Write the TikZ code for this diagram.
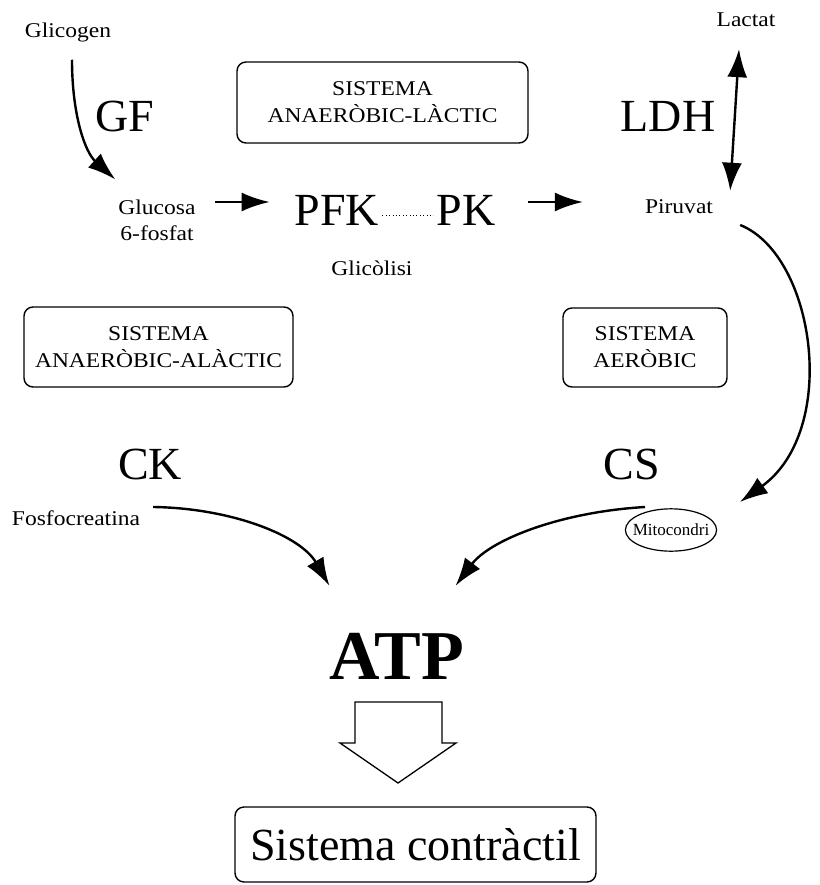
\documentclass[tikz,border=0pt]{standalone}
\usepackage{fontspec}
\setmainfont{Liberation Serif}
\newfontfamily\widefont{Liberation Serif}[FakeStretch=1.12]
\usetikzlibrary{arrows.meta,shapes.geometric}

\tikzset{
	small/.style={font=\widefont\fontsize{21}{26}\selectfont, inner sep=0pt, align=center},
	enzyme/.style={font=\fontsize{46}{50}\selectfont, inner sep=0pt},
	sysbox/.style={draw, line width=1.4pt, rounded corners=9pt, align=center, font=\widefont\fontsize{21}{27}\selectfont, inner sep=0pt},
	flow/.style={line width=2.4pt, -{Latex[length=28pt, width=19pt]}}
}

\begin{document}
\begin{tikzpicture}[x=1pt, y=-1pt]
	
	\useasboundingbox (0,0) rectangle (819,885);
	
	\node[small] (glicogen) at (68,32) {Glicogen};
	\node[enzyme] (gf) at (125,116) {GF};
	\node[small] (glucosa) at (157,220) {Glucosa\\6-fosfat};
	\node[enzyme] (pfk) at (337,210) {PFK};
	\node[enzyme] (pk) at (466,210) {PK};
	\node[small] (piruvat) at (679,207) {Piruvat};
	\node[small] (lactat) at (746,20) {Lactat};
	\node[enzyme] (ldh) at (668,116) {LDH};
	\node[small] (glicolisi) at (372,268) {Glicòlisi};
	
	\node[sysbox, minimum width=291pt, minimum height=81pt] (lactic) at (382.5,102.5) {SISTEMA\\ANAERÒBIC-LÀCTIC};
	\node[sysbox, minimum width=269pt, minimum height=80pt] (alactic) at (158.5,347) {SISTEMA\\ANAERÒBIC-ALÀCTIC};
	\node[sysbox, minimum width=164pt, minimum height=79pt] (aerobic) at (645,347.5) {SISTEMA\\AERÒBIC};
	
	\node[enzyme] (ck) at (150,464) {CK};
	\node[enzyme] (cs) at (632,464) {CS};
	\node[small] (fosfo) at (76,518) {Fosfocreatina};
	\node[draw, ellipse, line width=1.2pt, inner xsep=-6pt, inner ysep=9pt, font=\fontsize{17}{20}\selectfont] (mito) at (671,530) {Mitocondri};
	
	\node[font=\fontsize{70}{74}\selectfont\bfseries, inner sep=0pt] (atp) at (397,656) {ATP};
	\node[draw, line width=1.4pt, rounded corners=9pt, minimum width=361pt, minimum height=75pt, font=\fontsize{46}{50}\selectfont] (contractil) at (415.5,844.5) {Sistema contràctil};
	
	\draw[flow] ([shift={(4,18)}]glicogen.south) .. controls (72,115) and (85,152) .. ([shift={(-3,-20)}]glucosa.north west);
	\draw[flow] ([shift={(19,-18)}]glucosa.east) -- ([shift={(-25,-8)}]pfk.west);
	\draw[line width=1pt, dash pattern=on 1pt off 2.4pt] ([shift={(3,6)}]pfk.east) -- ([shift={(-3,6)}]pk.west);
	\draw[flow] ([shift={(32,-8)}]pk.east) -- ([shift={(-62,-5)}]piruvat.west);
	\draw[line width=2.4pt, {Latex[length=28pt, width=20pt]}-{Latex[length=28pt, width=20pt]}] ([shift={(-7,22)}]lactat.south) -- ([shift={(17,-9)}]piruvat.north east);
	\draw[flow] ([shift={(27,18)}]piruvat.east) .. controls (815,255) and (840,430) .. ([shift={(69,-28)}]mito.center);
	
	\draw[flow] ([shift={(13,-11)}]fosfo.east) .. controls (230,508) and (300,535) .. ([shift={(0,-47)}]atp.north west);
	\draw[flow] ([shift={(-26,-23)}]mito.center) .. controls (560,512) and (490,540) .. ([shift={(-9,-47)}]atp.north east);
	
	\draw[line width=1.3pt] (355,702) -- (442,702) -- (442,743) -- (456,743) -- (398,783) -- (340,743) -- (355,743) -- cycle;
	
\end{tikzpicture}
\end{document}
